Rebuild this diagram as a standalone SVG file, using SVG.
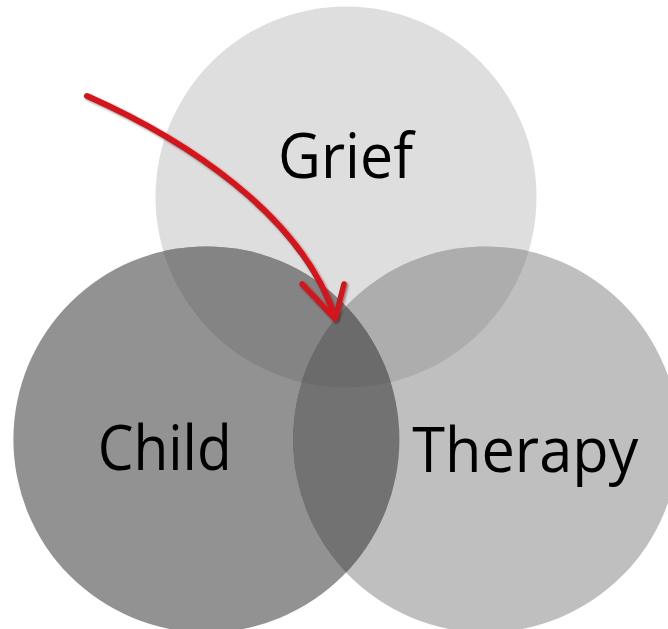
<svg xmlns="http://www.w3.org/2000/svg" width="668" height="629" viewBox="0 0 668 629">
<style>
.lbl{font-family:"Open Sans","Liberation Sans",sans-serif;font-size:62px;fill:#000;text-anchor:middle}
</style>
<defs>
<clipPath id="cGrief"><circle cx="346" cy="197" r="190.5"/></clipPath>
<clipPath id="cChild"><circle cx="206.4" cy="439.4" r="193"/></clipPath>
<clipPath id="cTherapy"><circle cx="485.7" cy="439.4" r="193"/></clipPath>
<filter id="sh" x="-20%" y="-20%" width="140%" height="140%">
<feDropShadow dx="1.5" dy="1.5" stdDeviation="1.2" flood-color="#000" flood-opacity="0.45"/>
</filter>
</defs>
<rect width="668" height="629" fill="#fff"/>
<g id="grief">
<circle cx="346" cy="197" r="190.5" fill="#dedede"/>
</g>
<g id="child">
<circle cx="206.4" cy="439.4" r="193" fill="#929292"/>
</g>
<g id="therapy">
<circle cx="485.7" cy="439.4" r="193" fill="#bfbfbf"/>
</g>
<g id="overlaps">
<circle cx="346" cy="197" r="190.5" fill="#848484" clip-path="url(#cChild)"/>
<circle cx="346" cy="197" r="190.5" fill="#adadad" clip-path="url(#cTherapy)"/>
<g clip-path="url(#cChild)">
<circle cx="485.7" cy="439.4" r="193" fill="#727272"/>
<circle cx="346" cy="197" r="190.5" fill="#6b6b6b" clip-path="url(#cTherapy)"/>
</g>
</g>
<g id="labels">
<text class="lbl" x="345.5" y="178" textLength="135" lengthAdjust="spacingAndGlyphs">Grief</text>
<text class="lbl" x="164.7" y="470" textLength="134" lengthAdjust="spacingAndGlyphs">Child</text>
<text class="lbl" x="525.3" y="471.5" textLength="226" lengthAdjust="spacingAndGlyphs">Therapy</text>
</g>
<g id="connectors" filter="url(#sh)" fill="none" stroke="#d3181c" stroke-linecap="round" stroke-linejoin="round">
<path d="M 87 96 C 182 138, 302 214, 335 318" stroke-width="6"/>
<path d="M 302 284 L 335 319 L 344 284" stroke-width="5.5"/>
</g>
</svg>
